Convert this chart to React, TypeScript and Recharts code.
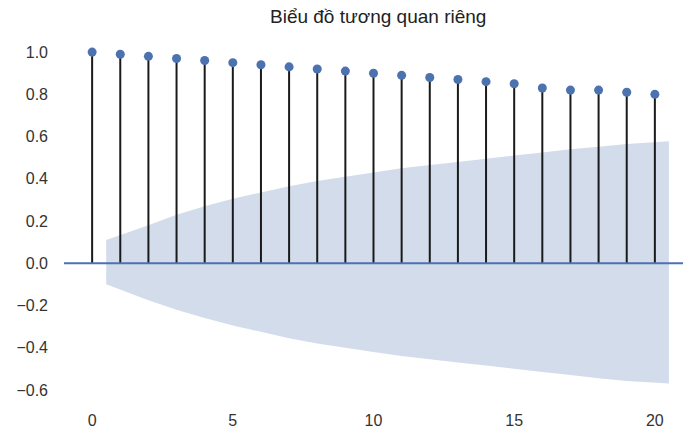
import {
    ComposedChart,
    Area,
    Scatter,
    XAxis,
    YAxis,
    ReferenceLine
} from 'recharts';

const title = 'Biểu đồ tương quan riêng';

// autocorrelation per lag
const lags = [0, 1, 2, 3, 4, 5, 6, 7, 8, 9, 10, 11, 12, 13, 14, 15, 16, 17, 18, 19, 20];
const acfValues = [1.0, 0.99, 0.98, 0.97, 0.96, 0.95, 0.94, 0.93, 0.92, 0.91, 0.9, 0.89, 0.88, 0.87, 0.86, 0.85, 0.83, 0.82, 0.82, 0.81, 0.8];

// confidence band
const bandX = [0.5, 2, 3, 4, 5, 6, 7, 8, 9, 10, 11, 12, 13, 14, 15, 16, 17, 18, 19, 20.5];
const bandUpper = [0.11, 0.18, 0.23, 0.27, 0.305, 0.335, 0.365, 0.39, 0.41, 0.43, 0.45, 0.465, 0.48, 0.495, 0.51, 0.525, 0.54, 0.552, 0.565, 0.578];
const bandLower = [-0.1, -0.175, -0.22, -0.26, -0.295, -0.325, -0.355, -0.38, -0.4, -0.42, -0.44, -0.455, -0.47, -0.485, -0.5, -0.515, -0.53, -0.545, -0.558, -0.57];

const xTicks = [0, 5, 10, 15, 20];
const yTicks = [-0.6, -0.4, -0.2, 0, 0.2, 0.4, 0.6, 0.8, 1.0];

const bandData = bandX.map((x, i) => ({ x, band: [bandLower[i], bandUpper[i]] }));
const acfPoints = lags.map((x, i) => ({ x, y: acfValues[i] }));

const blue = '#4c72b0';
const font = '"Liberation Sans", Arial, sans-serif';
const tickStyle = { fill: '#333', fontSize: 16, fontFamily: font };

const fmt = (v: number) => (v < 0 ? '\u2212' + Math.abs(v).toFixed(1) : v.toFixed(1));

export default function App() {
    return (
        <div style={{ position: 'absolute', left: 0, top: 0, width: 686, height: 432, background: '#fff' }}>
            <div
                style={{
                    position: 'absolute',
                    left: 270,
                    top: 6,
                    whiteSpace: 'nowrap',
                    fontFamily: font,
                    fontSize: 19,
                    lineHeight: '22px',
                    color: '#222'
                }}
            >
                {title}
            </div>
            <ComposedChart
                width={686}
                height={432}
                data={bandData}
                margin={{ top: 31, right: 3, left: 0, bottom: 0 }}
            >
                <XAxis
                    dataKey="x"
                    type="number"
                    domain={[-1, 21]}
                    ticks={xTicks}
                    axisLine={false}
                    tickLine={false}
                    tickSize={0}
                    tickMargin={4}
                    height={21}
                    tick={tickStyle}
                    allowDataOverflow
                />
                <YAxis
                    type="number"
                    domain={[-0.7, 1.1]}
                    ticks={yTicks}
                    tickFormatter={fmt}
                    axisLine={false}
                    tickLine={false}
                    tickMargin={10}
                    width={64}
                    tick={tickStyle}
                    allowDataOverflow
                />
                <Area
                    type="linear"
                    dataKey="band"
                    stroke="none"
                    fill={blue}
                    fillOpacity={0.25}
                    isAnimationActive={false}
                />
                {acfPoints.map((p) => (
                    <ReferenceLine
                        key={`stem-${p.x}`}
                        segment={[{ x: p.x, y: 0 }, { x: p.x, y: p.y }]}
                        stroke="#1a1a1a"
                        strokeWidth={2}
                    />
                ))}
                <ReferenceLine y={0} stroke={blue} strokeWidth={2} />
                <Scatter data={acfPoints} dataKey="y" fill={blue} isAnimationActive={false} />
            </ComposedChart>
        </div>
    );
}
